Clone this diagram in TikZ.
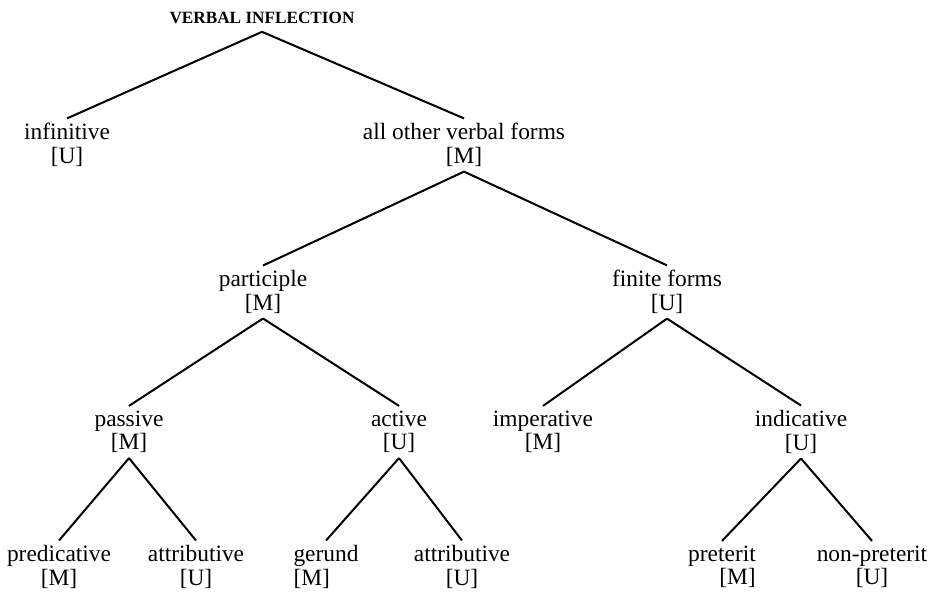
\documentclass[tikz,border=0pt]{standalone}
\usepackage{fontspec}
\setmainfont{Liberation Serif}
\begin{document}
\begin{tikzpicture}[x=0.5pt,y=-0.5pt,line width=1pt,
	every node/.style={align=center,inner xsep=1pt,inner ysep=2pt,font=\fontsize{11.7}{11.8}\selectfont}]
		\useasboundingbox (0,0) rectangle (937,601);
		\node[font=\fontsize{8.6}{10}\selectfont\bfseries,inner ysep=3.5pt] (root) at (262,18) {VERBAL INFLECTION};
		
		\node (1) at (67,145) {infinitive\\{[U]}};
		\node (2) at (464,145) {all other verbal forms\\{[M]}};
		
		\node (2-1) at (263,292) {participle\\{[M]}};
		\node (2-2) at (667,292) {finite forms\\{[U]}};
		
		\node (2-1-1) at (129,432) {passive\\{[M]}};
		\node (2-1-2) at (399,432) {active\\{[U]}};
		\node (2-2-1) at (543,432) {imperative\\{[M]}};
		\node (2-2-2) at (801,432) {indicative\\{[U]}};
		
		\node (2-1-1-1) at (59,567) {predicative\\{[M]}};
		\node (2-1-1-2) at (196,567) {attributive\\{[U]}};
		\node[align=left] (2-1-2-1) at (326,567) {gerund\\{[M]}};
		\node (2-1-2-2) at (462,567) {attributive\\{[U]}};
		\node[align=right] (2-2-2-1) at (722,567) {preterit\\{[M]}};
		\node (2-2-2-2) at (872,567) {non-preterit\\{[U]}};
		
		\draw (root.south) -- (1.north);
		\draw (root.south) -- (2.north);
		
		\draw (2.south) -- (2-1.north);
		\draw (2.south) -- (2-2.north);
		
		\draw (2-1.south) -- (2-1-1.north);
		\draw (2-1.south) -- (2-1-2.north);
		\draw (2-2.south) -- (2-2-1.north);
		\draw (2-2.south) -- (2-2-2.north);
		
		\draw (2-1-1.south) -- (2-1-1-1.north);
		\draw (2-1-1.south) -- (2-1-1-2.north);
		\draw (2-1-2.south) -- (2-1-2-1.north);
		\draw (2-1-2.south) -- (2-1-2-2.north);
		\draw (2-2-2.south) -- (2-2-2-1.north);
		\draw (2-2-2.south) -- (2-2-2-2.north);
	\end{tikzpicture}
\end{document}
